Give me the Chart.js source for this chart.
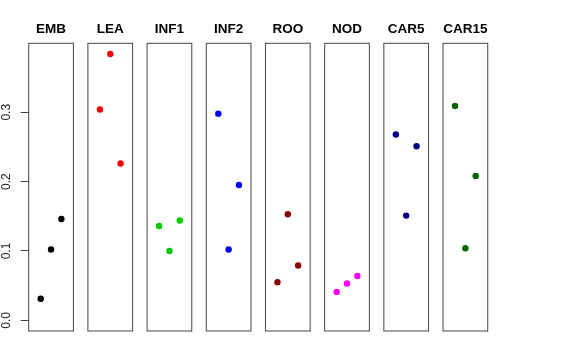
<!DOCTYPE html>
<html>
<head>
<meta charset="utf-8">
<script src="https://cdn.jsdelivr.net/npm/chart.js@4/dist/chart.umd.min.js"></script>
<style>
body{margin:0;background:#fff;}
#wrap{position:relative;width:576px;height:360px;overflow:hidden;}
#wrap canvas{position:absolute;top:0;}
</style>
</head>
<body>
<div id="wrap"></div>
<script>
// panel names, colours and the three values in each (x = 1,2,3)
const groups=["EMB","LEA","INF1","INF2","ROO","NOD","CAR5","CAR15"];
const colors=["#000000","#FF0000","#00CD00","#0000FF","#8B0000","#FF00FF","#00008B","#006400"];
const xs=[1,2,3];
const vEMB=[0.031,0.102,0.146];
const vLEA=[0.304,0.384,0.226];
const vINF1=[0.136,0.100,0.144];
const vINF2=[0.298,0.102,0.195];
const vROO=[0.055,0.153,0.079];
const vNOD=[0.041,0.053,0.064];
const vCAR5=[0.268,0.151,0.251];
const vCAR15=[0.309,0.104,0.208];
const yTicks=[0,0.1,0.2,0.3];
const yTickLabels=["0.0","0.1","0.2","0.3"];
const series=[vEMB,vLEA,vINF1,vINF2,vROO,vNOD,vCAR5,vCAR15];

const Y_MIN=-0.0154,Y_MAX=0.3994;
const X_MIN=-0.16,X_MAX=4.16;
const PANEL_W=44.7,PANEL_TOP=43.3,PANEL_BOTTOM=331;
const TITLE_SIZE=13.5;
const font="'Liberation Sans', Arial, Helvetica, sans-serif";

const boxPlugin={
  id:"box",
  afterDraw(chart){
    const a=chart.chartArea,c=chart.ctx;
    c.save();
    c.strokeStyle="#444";
    c.lineWidth=1;
    c.strokeRect(a.left,a.top,a.right-a.left,a.bottom-a.top);
    c.restore();
  }
};
const yLabelPlugin={
  id:"ylabels",
  afterDraw(chart){
    const s=chart.scales.y;
    if(!s.options.display)return;
    const c=chart.ctx;
    c.save();
    c.fillStyle="#222";
    c.font="12px "+font;
    c.textAlign="center";
    c.textBaseline="middle";
    s.ticks.forEach((t,i)=>{
      const y=s.getPixelForValue(t.value);
      c.save();
      c.translate(7,y);
      c.rotate(-Math.PI/2);
      c.fillText(yTickLabels[i],0,0);
      c.restore();
    });
    c.restore();
  }
};

const wrap=document.getElementById("wrap");
groups.forEach((g,i)=>{
  const first=i===0;
  const pLeft=28.7+59.19*i;
  const cLeft=first?0:Math.floor(pLeft)-6;
  const cW=first?Math.ceil(pLeft+PANEL_W)+6:58;
  const cv=document.createElement("canvas");
  cv.style.left=cLeft+"px";
  cv.width=cW;cv.height=360;
  cv.style.width=cW+"px";cv.style.height="360px";
  wrap.appendChild(cv);
  const padL=first?0:pLeft-cLeft;
  const padR=cW-(pLeft-cLeft)-PANEL_W;
  const titleBox=TITLE_SIZE*1.2;
  new Chart(cv,{
    type:"scatter",
    data:{datasets:[{
      data:xs.map((x,k)=>({x:x,y:series[i][k]})),
      backgroundColor:colors[i],
      borderColor:colors[i],
      pointRadius:3.2,
      pointBorderWidth:0
    }]},
    options:{
      responsive:false,
      animation:false,
      events:[],
      layout:{padding:{left:padL,right:padR,top:20,bottom:360-PANEL_BOTTOM}},
      plugins:{
        legend:{display:false},
        tooltip:{enabled:false},
        title:{
          display:true,
          text:g,
          fullSize:false,
          color:"#000",
          font:{family:font,size:TITLE_SIZE,weight:"bold"},
          padding:{top:1.2,bottom:PANEL_TOP-20-1.2-titleBox}
        }
      },
      scales:{
        x:{type:"linear",display:false,min:X_MIN,max:X_MAX},
        y:{
          type:"linear",
          display:first,
          min:Y_MIN,max:Y_MAX,
          afterBuildTicks:s=>{s.ticks=yTicks.map(v=>({value:v}));},
          afterFit:s=>{if(first)s.width=pLeft;},
          border:{display:false},
          grid:{drawOnChartArea:false,drawTicks:true,tickLength:8,color:"#444",lineWidth:1},
          ticks:{display:false}
        }
      }
    },
    plugins:[boxPlugin,yLabelPlugin]
  });
});
</script>
</body>
</html>
